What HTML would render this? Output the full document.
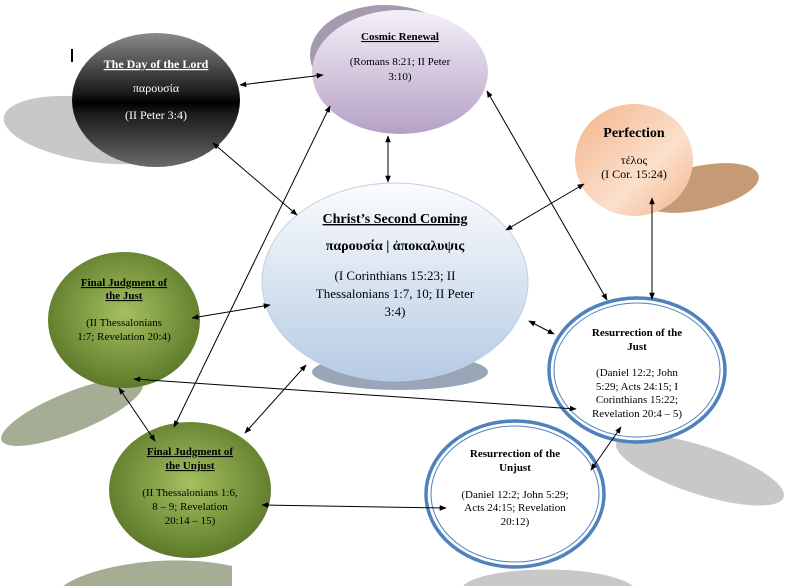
<!DOCTYPE html>
<html><head><meta charset="utf-8"><style>
html,body{margin:0;padding:0;background:#fff;width:791px;height:586px;overflow:hidden;}
svg{display:block;font-family:"Liberation Serif",serif;}
</style></head><body>
<svg width="791" height="586" viewBox="0 0 791 586" xmlns="http://www.w3.org/2000/svg" overflow="hidden">
<defs>
<linearGradient id="gDay" x1="0" y1="0" x2="0" y2="1">
<stop offset="0" stop-color="#8a8a8a"/><stop offset="0.45" stop-color="#1a1a1a"/><stop offset="0.52" stop-color="#000"/><stop offset="0.6" stop-color="#1a1a1a"/><stop offset="1" stop-color="#6a6a6a"/></linearGradient>
<linearGradient id="gCos" x1="0" y1="0" x2="0" y2="1">
<stop offset="0" stop-color="#f4f0f7"/><stop offset="1" stop-color="#b5a1c6"/></linearGradient>
<linearGradient id="gPer" x1="0" y1="0" x2="1" y2="1">
<stop offset="0" stop-color="#f3b48a"/><stop offset="0.6" stop-color="#fbe0cc"/><stop offset="1" stop-color="#f3b48a"/></linearGradient>
<linearGradient id="gCen" x1="0" y1="0" x2="0" y2="1">
<stop offset="0" stop-color="#fbfcfe"/><stop offset="1" stop-color="#b6cbe4"/></linearGradient>
<radialGradient id="gGr" cx="0.5" cy="0.45" r="0.55">
<stop offset="0" stop-color="#a5c060"/><stop offset="1" stop-color="#5d7a2a"/></radialGradient>
<marker id="a" viewBox="0 0 10 10" refX="9" refY="5" markerWidth="7" markerHeight="7" orient="auto-start-reverse"><path d="M0,1 L10,5 L0,9 z" fill="#000"/></marker>
</defs>
<!-- shadows -->
<ellipse cx="95" cy="130" rx="92" ry="32" fill="#c8c8c8" transform="rotate(8 95 130)"/>
<ellipse cx="385" cy="55" rx="75" ry="50" fill="#a49aae"/>
<ellipse cx="700" cy="188" rx="60" ry="22" fill="#c69a74" transform="rotate(-12 700 188)"/>
<ellipse cx="400" cy="372" rx="88" ry="18" fill="#98a6b8"/>
<ellipse cx="72" cy="412" rx="76" ry="20" fill="#a5ad95" transform="rotate(-22 72 412)"/>
<path d="M63,586 C90,566 170,552 232,566 L232,586 Z" fill="#a5ad95"/>
<path d="M463,586 C480,566 600,562 633,586 Z" fill="#c8c8c8"/>
<ellipse cx="700" cy="470" rx="88" ry="24" fill="#c8c8c8" transform="rotate(18 700 470)"/>
<!-- nodes -->
<ellipse cx="156" cy="100" rx="84" ry="67" fill="url(#gDay)"/>
<ellipse cx="400" cy="72" rx="88" ry="62" fill="url(#gCos)"/>
<ellipse cx="634" cy="160" rx="59" ry="56" fill="url(#gPer)"/>
<ellipse cx="395" cy="282" rx="133" ry="99" fill="url(#gCen)" stroke="#c0cfe0"/>
<ellipse cx="124" cy="320" rx="76" ry="68" fill="url(#gGr)"/>
<ellipse cx="190" cy="490" rx="81" ry="68" fill="url(#gGr)"/>
<ellipse cx="637" cy="370" rx="88" ry="72" fill="#fff" stroke="#4f81bd" stroke-width="3.5"/>
<ellipse cx="637" cy="370" rx="83" ry="67" fill="none" stroke="#4f81bd" stroke-width="1"/>
<ellipse cx="515" cy="494" rx="89" ry="73" fill="#fff" stroke="#4f81bd" stroke-width="3.5"/>
<ellipse cx="515" cy="494" rx="84" ry="68" fill="none" stroke="#4f81bd" stroke-width="1"/>
<rect x="71" y="49" width="2" height="13" fill="#000"/>
<!-- arrows -->
<g stroke="#000" stroke-width="1" marker-start="url(#a)" marker-end="url(#a)" fill="none">
<line x1="240" y1="85" x2="323" y2="75"/>
<line x1="213" y1="143" x2="297" y2="215"/>
<line x1="388" y1="136" x2="388" y2="182"/>
<line x1="330" y1="106" x2="174" y2="427"/>
<line x1="487" y1="91" x2="607" y2="300"/>
<line x1="584" y1="184" x2="506" y2="230"/>
<line x1="652" y1="198" x2="652" y2="299"/>
<line x1="529" y1="321" x2="554" y2="334"/>
<line x1="192" y1="318" x2="270" y2="305"/>
<line x1="119" y1="388" x2="155" y2="441"/>
<line x1="134" y1="379" x2="576" y2="409"/>
<line x1="306" y1="365" x2="245" y2="433"/>
<line x1="262" y1="505" x2="446" y2="508"/>
<line x1="621" y1="427" x2="591" y2="470"/>
</g>
<!-- text -->
<g text-anchor="middle">
<text x="156" y="68" font-size="12" font-weight="bold" fill="#fff" text-decoration="underline">The Day of the Lord</text>
<text x="156" y="92" font-size="12" fill="#fff">παρουσία</text>
<text x="156" y="119" font-size="12" fill="#fff">(II Peter 3:4)</text>
<text x="400" y="40" font-size="11" font-weight="bold" text-decoration="underline">Cosmic Renewal</text>
<text x="400" y="65" font-size="11">(Romans 8:21; II Peter</text>
<text x="400" y="80" font-size="11">3:10)</text>
<text x="634" y="137" font-size="14" font-weight="bold">Perfection</text>
<text x="634" y="164" font-size="12">τέλος</text>
<text x="634" y="178" font-size="12">(I Cor. 15:24)</text>
<text x="395" y="223" font-size="14" font-weight="bold" text-decoration="underline">Christ’s Second Coming</text>
<text x="395" y="250" font-size="14" font-weight="bold">παρουσία  |  ἀποκαλυψις</text>
<text x="395" y="280" font-size="13">(I Corinthians 15:23; II</text>
<text x="395" y="298" font-size="13">Thessalonians 1:7, 10; II Peter</text>
<text x="395" y="316" font-size="13">3:4)</text>
<text x="124" y="286" font-size="11" font-weight="bold" text-decoration="underline">Final Judgment of</text>
<text x="124" y="299" font-size="11" font-weight="bold" text-decoration="underline">the Just</text>
<text x="124" y="326" font-size="11">(II Thessalonians</text>
<text x="124" y="340" font-size="11">1:7; Revelation 20:4)</text>
<text x="190" y="455" font-size="11" font-weight="bold" text-decoration="underline">Final Judgment of</text>
<text x="190" y="469" font-size="11" font-weight="bold" text-decoration="underline">the Unjust</text>
<text x="190" y="496" font-size="11">(II Thessalonians 1:6,</text>
<text x="190" y="510" font-size="11">8 – 9; Revelation</text>
<text x="190" y="524" font-size="11">20:14 – 15)</text>
<text x="637" y="336" font-size="11" font-weight="bold">Resurrection of the</text>
<text x="637" y="350" font-size="11" font-weight="bold">Just</text>
<text x="637" y="376" font-size="11">(Daniel 12:2; John</text>
<text x="637" y="390" font-size="11">5:29; Acts 24:15; I</text>
<text x="637" y="403" font-size="11">Corinthians 15:22;</text>
<text x="637" y="417" font-size="11">Revelation 20:4 – 5)</text>
<text x="515" y="457" font-size="11" font-weight="bold">Resurrection of the</text>
<text x="515" y="471" font-size="11" font-weight="bold">Unjust</text>
<text x="515" y="498" font-size="11">(Daniel 12:2; John 5:29;</text>
<text x="515" y="511" font-size="11">Acts 24:15; Revelation</text>
<text x="515" y="525" font-size="11">20:12)</text>
</g>
</svg>
</body></html>
